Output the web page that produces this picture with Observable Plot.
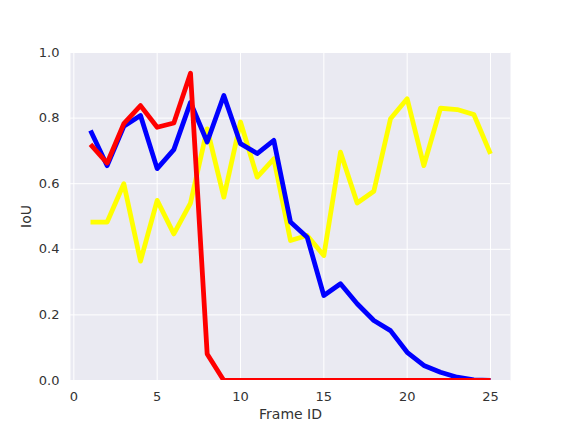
<!DOCTYPE html>
<html>
<head>
<meta charset="utf-8">
<script src="https://cdn.jsdelivr.net/npm/d3@7"></script>
<script src="https://cdn.jsdelivr.net/npm/@observablehq/plot@0.6"></script>
<style>
  html, body { margin: 0; padding: 0; background: #ffffff; }
  #chart { width: 562px; height: 427px; }
</style>
</head>
<body>
<div id="chart"></div>
<script>
const frames = [1,2,3,4,5,6,7,8,9,10,11,12,13,14,15,16,17,18,19,20,21,22,23,24,25];
const blueIoU = [0.762,0.655,0.775,0.808,0.646,0.704,0.848,0.727,0.869,0.722,0.692,0.732,0.483,0.437,0.259,0.295,0.234,0.183,0.152,0.086,0.046,0.025,0.010,0.002,0.0];
const redIoU = [0.720,0.663,0.783,0.838,0.772,0.785,0.937,0.081,0,0,0,0,0,0,0,0,0,0,0,0,0,0,0,0,0];
const yellowIoU = [0.483,0.483,0.600,0.364,0.549,0.447,0.541,0.767,0.559,0.788,0.620,0.676,0.427,0.442,0.381,0.696,0.541,0.577,0.798,0.859,0.655,0.830,0.826,0.811,0.691];
const xTicks = [0,5,10,15,20,25];
const yTicks = [0,0.2,0.4,0.6,0.8,1.0];

const rows = (vals) => frames.map((f, i) => ({frame: f, iou: vals[i]}));

const textColor = "#333333";
const lineOpts = {x: "frame", y: "iou", strokeWidth: 4.8, strokeLinejoin: "round", strokeLinecap: "butt", clip: true};

const chart = Plot.plot({
  width: 562,
  height: 427,
  marginLeft: 70,
  marginRight: 52,
  marginTop: 52,
  marginBottom: 47,
  style: {fontFamily: "DejaVu Sans, sans-serif", background: "#ffffff", color: textColor},
  x: {domain: [-0.2, 26.2]},
  y: {domain: [0, 1]},
  marks: [
    Plot.frame({fill: "#EAEAF2", stroke: null}),
    Plot.gridX(xTicks, {stroke: "#ffffff", strokeOpacity: 1, strokeWidth: 1}),
    Plot.gridY(yTicks, {stroke: "#ffffff", strokeOpacity: 1, strokeWidth: 1}),
    Plot.axisX(xTicks, {tickSize: 0, tickPadding: 11, fontSize: 13, fill: textColor,
      label: "Frame ID", labelAnchor: "center", labelArrow: "none", labelOffset: 38}),
    Plot.axisY(yTicks, {tickSize: 0, tickPadding: 11, fontSize: 13, fill: textColor,
      tickFormat: d3.format(".1f"),
      label: "IoU", labelAnchor: "center", labelArrow: "none", labelOffset: 49}),
    Plot.line(rows(yellowIoU), {...lineOpts, stroke: "#FFFF00"}),
    Plot.line(rows(blueIoU), {...lineOpts, stroke: "#0000FF"}),
    Plot.line(rows(redIoU), {...lineOpts, stroke: "#FF0000"})
  ]
});
chart.querySelectorAll("[aria-label='x-axis label'] text, [aria-label='y-axis label'] text").forEach(t => {
  t.setAttribute("font-size", "14");
});
document.getElementById("chart").appendChild(chart);
</script>
</body>
</html>
